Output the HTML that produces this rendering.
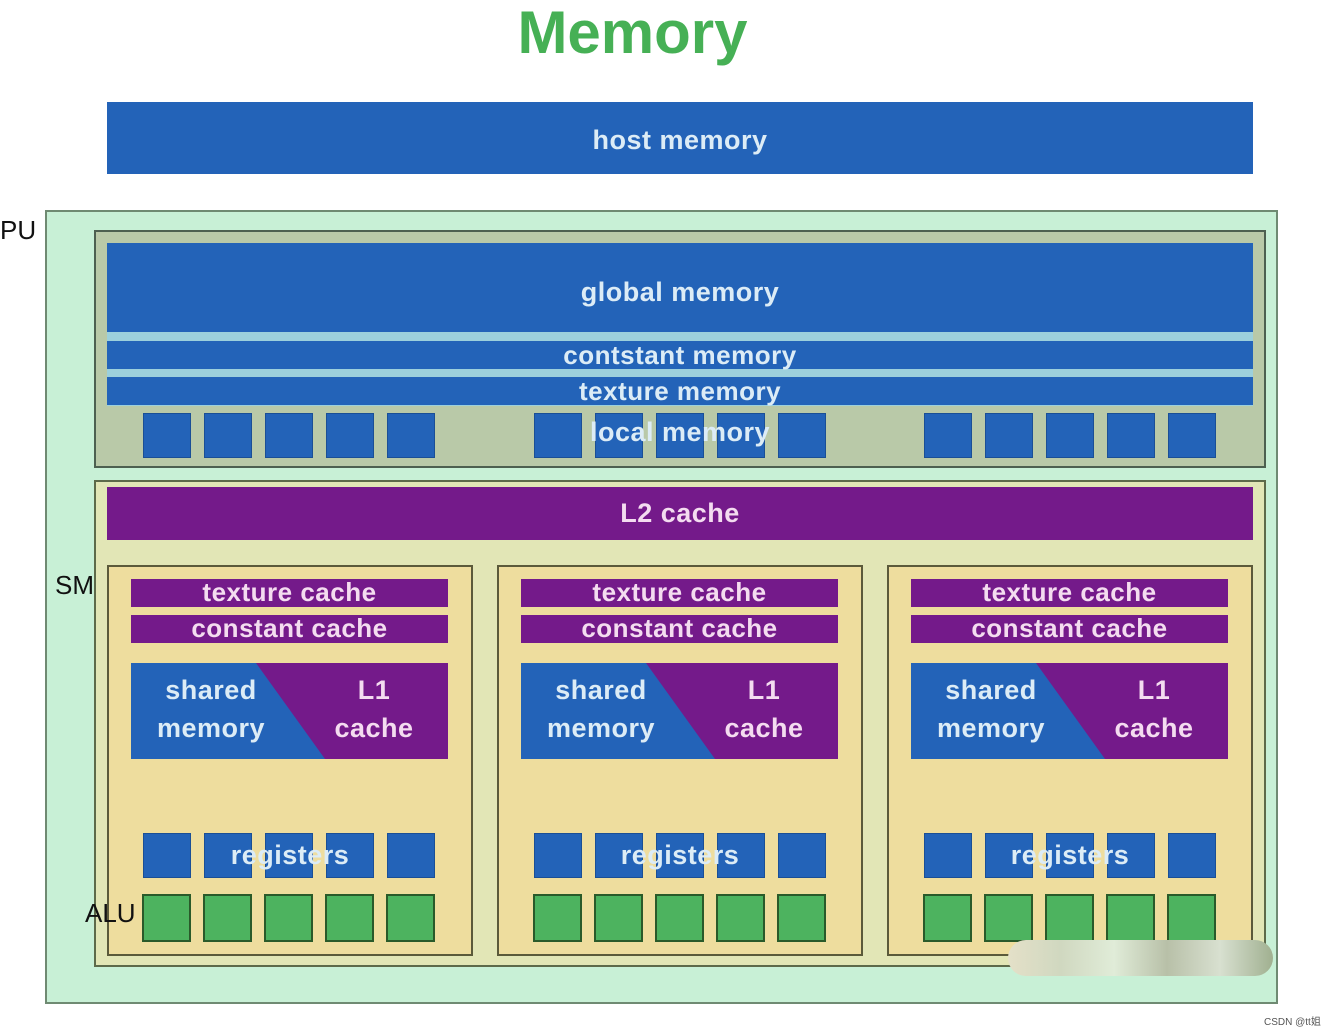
<!DOCTYPE html>
<html><head><meta charset="utf-8"><style>
*{margin:0;padding:0;box-sizing:border-box}
body{width:1338px;height:1034px;background:#fff;position:relative;overflow:hidden;font-family:"Liberation Sans","DejaVu Sans",sans-serif}
.a{position:absolute}
.b{background:#2363b8;color:#dcecf6;font-weight:bold;text-align:center;letter-spacing:0.5px}
.p{background:#741a8a;color:#f4dcf0;font-weight:bold;text-align:center;letter-spacing:0.5px}
.sq{position:absolute;width:48px;height:45px;background:#2363b8;border:1px solid #1a4f96}
.g{position:absolute;width:49px;height:48px;background:#4db35f;border:2px solid #2a5a2a}
.lbl{position:absolute;color:#111;font-size:26px;z-index:5}
</style></head><body>
<div class="a" style="left:505px;top:-2px;width:255px;text-align:center;font-size:60px;font-weight:bold;color:#46b055">Memory</div>
<div class="a b" style="left:107px;top:102px;width:1146px;height:72px;line-height:76px;font-size:27px">host memory</div>
<div class="a" style="left:45px;top:210px;width:1233px;height:794px;background:#c8f0d6;border:2px solid #6f8a72"></div>
<div class="a" style="left:94px;top:230px;width:1172px;height:238px;background:#b9c9a8;border:2px solid #4d6050"></div>
<div class="a" style="left:107px;top:243px;width:1146px;height:163px;background:#9cd0dc"></div>
<div class="a b" style="left:107px;top:243px;width:1146px;height:89px;line-height:98px;font-size:27px">global memory</div>
<div class="a b" style="left:107px;top:341px;width:1146px;height:28px;line-height:28px;font-size:26px">contstant memory</div>
<div class="a b" style="left:107px;top:377px;width:1146px;height:28px;line-height:28px;font-size:26px">texture memory</div>
<div class="sq" style="left:143px;top:413px"></div><div class="sq" style="left:204px;top:413px"></div><div class="sq" style="left:265px;top:413px"></div><div class="sq" style="left:326px;top:413px"></div><div class="sq" style="left:387px;top:413px"></div>
<div class="sq" style="left:534px;top:413px"></div><div class="sq" style="left:595px;top:413px"></div><div class="sq" style="left:656px;top:413px"></div><div class="sq" style="left:717px;top:413px"></div><div class="sq" style="left:778px;top:413px"></div>
<div class="sq" style="left:924px;top:413px"></div><div class="sq" style="left:985px;top:413px"></div><div class="sq" style="left:1046px;top:413px"></div><div class="sq" style="left:1107px;top:413px"></div><div class="sq" style="left:1168px;top:413px"></div>
<div class="a" style="left:530px;top:417px;width:300px;text-align:center;font-size:27px;font-weight:bold;color:#dcecf6;letter-spacing:0.5px">local memory</div>
<div class="a" style="left:94px;top:480px;width:1172px;height:487px;background:#e2e6b6;border:2px solid #5d6a4a"></div>
<div class="a p" style="left:107px;top:487px;width:1146px;height:53px;line-height:52px;font-size:27px">L2 cache</div>

<div class="a" style="left:107px;top:565px;width:366px;height:391px;background:#eedd9e;border:2px solid #5b5a3a"></div>
<div class="a" style="left:497px;top:565px;width:366px;height:391px;background:#eedd9e;border:2px solid #5b5a3a"></div>
<div class="a" style="left:887px;top:565px;width:366px;height:391px;background:#eedd9e;border:2px solid #5b5a3a"></div>

<div class="a p" style="left:131px;top:579px;width:317px;height:28px;line-height:27px;font-size:26px">texture cache</div>
<div class="a p" style="left:131px;top:615px;width:317px;height:28px;line-height:27px;font-size:26px">constant cache</div>
<div class="a p" style="left:521px;top:579px;width:317px;height:28px;line-height:27px;font-size:26px">texture cache</div>
<div class="a p" style="left:521px;top:615px;width:317px;height:28px;line-height:27px;font-size:26px">constant cache</div>
<div class="a p" style="left:911px;top:579px;width:317px;height:28px;line-height:27px;font-size:26px">texture cache</div>
<div class="a p" style="left:911px;top:615px;width:317px;height:28px;line-height:27px;font-size:26px">constant cache</div>

<svg class="a" style="left:0;top:0" width="1338" height="1034">
<g font-family="Liberation Sans, DejaVu Sans, sans-serif" font-weight="bold" font-size="27" letter-spacing="0.5">
<g transform="translate(131,663)">
<rect width="317" height="96" fill="#741a8a"/><polygon points="0,0 125,0 194,96 0,96" fill="#2363b8"/>
<text x="80" y="36" fill="#dcecf6" text-anchor="middle">shared</text><text x="80" y="74" fill="#dcecf6" text-anchor="middle">memory</text>
<text x="243" y="36" fill="#f4dcf0" text-anchor="middle">L1</text><text x="243" y="74" fill="#f4dcf0" text-anchor="middle">cache</text></g>
<g transform="translate(521,663)">
<rect width="317" height="96" fill="#741a8a"/><polygon points="0,0 125,0 194,96 0,96" fill="#2363b8"/>
<text x="80" y="36" fill="#dcecf6" text-anchor="middle">shared</text><text x="80" y="74" fill="#dcecf6" text-anchor="middle">memory</text>
<text x="243" y="36" fill="#f4dcf0" text-anchor="middle">L1</text><text x="243" y="74" fill="#f4dcf0" text-anchor="middle">cache</text></g>
<g transform="translate(911,663)">
<rect width="317" height="96" fill="#741a8a"/><polygon points="0,0 125,0 194,96 0,96" fill="#2363b8"/>
<text x="80" y="36" fill="#dcecf6" text-anchor="middle">shared</text><text x="80" y="74" fill="#dcecf6" text-anchor="middle">memory</text>
<text x="243" y="36" fill="#f4dcf0" text-anchor="middle">L1</text><text x="243" y="74" fill="#f4dcf0" text-anchor="middle">cache</text></g>
</g></svg>

<div class="sq" style="left:143px;top:833px"></div><div class="sq" style="left:204px;top:833px"></div><div class="sq" style="left:265px;top:833px"></div><div class="sq" style="left:326px;top:833px"></div><div class="sq" style="left:387px;top:833px"></div>
<div class="sq" style="left:534px;top:833px"></div><div class="sq" style="left:595px;top:833px"></div><div class="sq" style="left:656px;top:833px"></div><div class="sq" style="left:717px;top:833px"></div><div class="sq" style="left:778px;top:833px"></div>
<div class="sq" style="left:924px;top:833px"></div><div class="sq" style="left:985px;top:833px"></div><div class="sq" style="left:1046px;top:833px"></div><div class="sq" style="left:1107px;top:833px"></div><div class="sq" style="left:1168px;top:833px"></div>
<div class="a" style="left:140px;top:840px;width:300px;text-align:center;font-size:27px;font-weight:bold;color:#dcecf6;letter-spacing:0.5px">registers</div>
<div class="a" style="left:530px;top:840px;width:300px;text-align:center;font-size:27px;font-weight:bold;color:#dcecf6;letter-spacing:0.5px">registers</div>
<div class="a" style="left:920px;top:840px;width:300px;text-align:center;font-size:27px;font-weight:bold;color:#dcecf6;letter-spacing:0.5px">registers</div>

<div class="g" style="left:142px;top:894px"></div><div class="g" style="left:203px;top:894px"></div><div class="g" style="left:264px;top:894px"></div><div class="g" style="left:325px;top:894px"></div><div class="g" style="left:386px;top:894px"></div>
<div class="g" style="left:533px;top:894px"></div><div class="g" style="left:594px;top:894px"></div><div class="g" style="left:655px;top:894px"></div><div class="g" style="left:716px;top:894px"></div><div class="g" style="left:777px;top:894px"></div>
<div class="g" style="left:923px;top:894px"></div><div class="g" style="left:984px;top:894px"></div><div class="g" style="left:1045px;top:894px"></div><div class="g" style="left:1106px;top:894px"></div><div class="g" style="left:1167px;top:894px"></div>

<div class="lbl" style="left:0;top:215px">PU</div>
<div class="lbl" style="left:55px;top:570px">SM</div>
<div class="lbl" style="left:85px;top:898px">ALU</div>

<div class="a" style="left:1008px;top:940px;width:265px;height:36px;border-radius:18px;background:linear-gradient(90deg,#e4e0c8,#d0d8c0,#e0ecd8,#b8c0a8,#d8e0d0,#a0b090)"></div>
<div class="a" style="left:1264px;top:1013px;font-size:10px;color:#555">CSDN @tt姐</div>
</body></html>
